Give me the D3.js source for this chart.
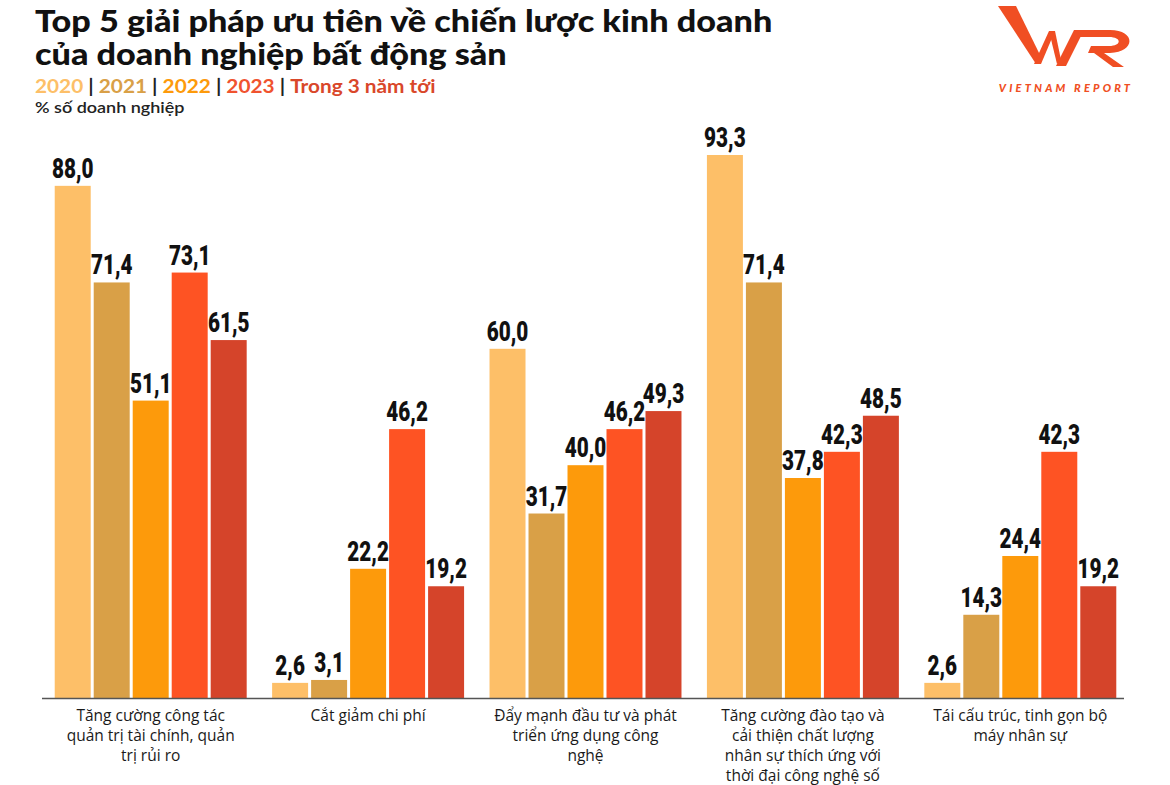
<!DOCTYPE html>
<html><head><meta charset="utf-8">
<script src="https://cdn.jsdelivr.net/npm/d3@7"></script>
<style>body{margin:0;background:#fff;} svg{display:block}</style>
</head><body><svg id="c" width="1170" height="785"></svg>
<script>
const categories = [
  ["Tăng cường công tác", "quản trị tài chính, quản", "trị rủi ro"],
  ["Cắt giảm chi phí"],
  ["Đẩy mạnh đầu tư và phát", "triển ứng dụng công", "nghệ"],
  ["Tăng cường đào tạo và", "cải thiện chất lượng", "nhân sự thích ứng với", "thời đại công nghệ số"],
  ["Tái cấu trúc, tinh gọn bộ", "máy nhân sự"]
];
const seriesNames = ["2020", "2021", "2022", "2023", "Trong 3 năm tới"];
const v2020 = [88.0, 2.6, 60.0, 93.3, 2.6];
const v2021 = [71.4, 3.1, 31.7, 71.4, 14.3];
const v2022 = [51.1, 22.2, 40.0, 37.8, 24.4];
const v2023 = [73.1, 46.2, 46.2, 42.3, 42.3];
const vFuture = [61.5, 19.2, 49.3, 48.5, 19.2];
const colors = ["#FDBF68", "#D9A047", "#FD9A0B", "#FE5323", "#D5442A"];
const legendColors = ["#FDBF68", "#D9A047", "#FD9A0B", "#F0532F", "#D9472A"];

const series = [v2020, v2021, v2022, v2023, vFuture];
const svg = d3.select("#c");

const x0 = d3.scaleBand().domain(d3.range(categories.length)).range([42, 1129])
  .paddingInner(0.117).paddingOuter(0.0585);
const x1 = d3.scaleBand().domain(d3.range(seriesNames.length)).range([0, x0.bandwidth()])
  .paddingInner(0.077).paddingOuter(0);
const y = d3.scaleLinear().domain([0, 100]).range([698, 116]);
const fmt = v => d3.format(".1f")(v).replace(".", ",");

const data = [];
categories.forEach((c, i) => series.forEach((s, j) => data.push({ i, j, v: s[i] })));

const g = svg.append("g");
g.selectAll("rect").data(data).join("rect")
  .attr("x", d => x0(d.i) + x1(d.j))
  .attr("y", d => y(d.v))
  .attr("width", x1.bandwidth())
  .attr("height", d => y(0) - y(d.v))
  .attr("fill", d => colors[d.j]);

g.selectAll("text.val").data(data).join("text").attr("class", "val")
  .attr("transform", d => `translate(${x0(d.i) + x1(d.j) + x1.bandwidth() / 2},${y(d.v) - 8}) scale(0.74,1)`)
  .attr("text-anchor", "middle")
  .style("font-family", "Roboto, 'Liberation Sans', sans-serif")
  .style("font-weight", "900")
  .style("font-size", "28px")
  .attr("fill", "#111")
  .text(d => fmt(d.v));

// axis
const axis = svg.append("g").attr("transform", `translate(0,${y(0)})`)
  .call(d3.axisBottom(x0).tickSize(0).tickFormat(""));
axis.select(".domain").attr("d", "M42,0.5H1124").attr("stroke", "#555").attr("stroke-width", 1.5);

// category labels
const cl = svg.append("g");
categories.forEach((lines, i) => {
  const t = cl.append("text")
    .attr("x", x0(i) + x0.bandwidth() / 2)
    .attr("y", 721)
    .attr("text-anchor", "middle")
    .style("font-family", "'Open Sans', Lato, sans-serif")
    .style("font-size", "15.5px")
    .attr("fill", "#1a1a1a");
  lines.forEach((ln, k) => t.append("tspan").attr("x", x0(i) + x0.bandwidth() / 2)
    .attr("dy", k === 0 ? 0 : 20).text(ln));
});

// title
const title = svg.append("text").attr("transform", "translate(35,32) scale(1.14,1)")
  .style("font-family", "Lato, sans-serif").style("font-weight", "900")
  .style("font-size", "30px").attr("fill", "#111");
title.append("tspan").attr("x", 0).attr("y", 0).text("Top 5 giải pháp ưu tiên về chiến lược kinh doanh");
title.append("tspan").attr("x", 0).attr("y", 33.5).text("của doanh nghiệp bất động sản");

const sub = svg.append("text").attr("transform", "translate(35,93) scale(1.156,1)")
  .style("font-family", "Lato, sans-serif").style("font-weight", "700")
  .style("font-size", "18px");
seriesNames.forEach((n, j) => {
  if (j > 0) sub.append("tspan").attr("fill", "#222").text(" | ");
  sub.append("tspan").attr("fill", legendColors[j]).text(n);
});

svg.append("text").attr("transform", "translate(35,113) scale(1.2,1)")
  .style("font-family", "Lato, sans-serif").style("font-weight", "600")
  .style("font-size", "15px").attr("fill", "#222").text("% số doanh nghiệp");

// logo
const logo = svg.append("g").attr("fill", "#F04E23").attr("stroke", "none");
logo.append("path").attr("d", "M998,6 L1016,6 L1042,59 L1036,64 Z");
logo.append("path").attr("d", "M1034,64 L1049,31 L1055,31 L1041,64 Z");
logo.append("path").attr("d", "M1049,31 L1055,31 L1061,60 L1057,64 Z");
logo.append("path").attr("d", "M1056,66 L1074,30 L1084,30 L1066,66 Z");
logo.append("path").attr("d", "M1076,30 L1110,30 C1136,30 1136,52 1110,53 L1104,53 L1124,67 L1113,67 L1094,53 L1088,53 L1091,46 L1109,46 C1122,46 1122,37 1109,37 L1073,37 Z");
svg.append("text").attr("x", 1066).attr("y", 92).attr("text-anchor", "middle")
  .style("font-family", "Lato, sans-serif").style("font-weight", "900").style("font-style", "italic")
  .style("font-size", "11px").style("letter-spacing", "3.2px").attr("fill", "#F04E23")
  .text("VIETNAM REPORT");
</script></body></html>
